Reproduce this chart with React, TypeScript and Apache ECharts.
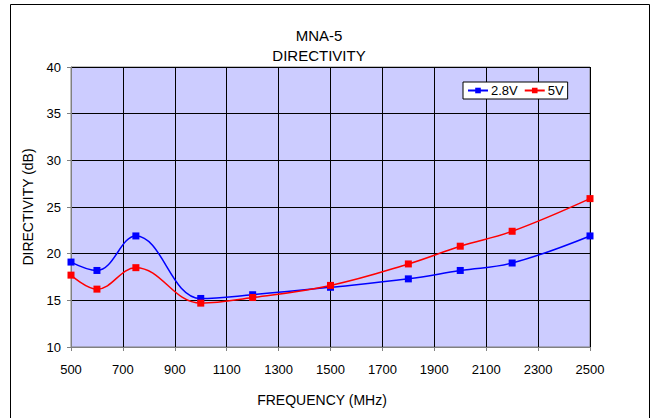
import React, { useEffect, useRef } from "react";
import * as echarts from "echarts";

const frequencies = [500, 600, 750, 1000, 1200, 1500, 1800, 2000, 2200, 2500];
const series28V = [19.1, 18.2, 21.9, 15.2, 15.6, 16.4, 17.3, 18.2, 19.0, 21.9];
const series5V = [17.7, 16.2, 18.5, 14.7, 15.3, 16.6, 18.9, 20.8, 22.4, 25.9];
const seriesNames = ["2.8V", "5V"];
const titleLines = ["MNA-5", "DIRECTIVITY"];

const FONT = "'Liberation Sans', Arial, sans-serif";

export default function App() {
  const ref = useRef<HTMLDivElement>(null);
  useEffect(() => {
    if (!ref.current) return;
    const chart = echarts.init(ref.current, null, { renderer: "svg" });
    const mk = (vals: number[]) => frequencies.map((f, i) => [f, vals[i]]);
    chart.setOption({
      animation: false,
      backgroundColor: "#ffffff",
      textStyle: { fontFamily: FONT },
      title: {
        text: titleLines.join("\n"),
        left: 314,
        textAlign: "center",
        top: 20,
        textStyle: { fontSize: 15, fontWeight: "normal", color: "#000", lineHeight: 20, fontFamily: FONT },
      },
      graphic: [
        {
          type: "rect",
          shape: { x: 10.5, y: 4.5, width: 639, height: 430 },
          style: { fill: "none", stroke: "#000", lineWidth: 1 },
          silent: true,
        },
      ],
      legend: {
        left: 463,
        top: 82,
        data: seriesNames,
        backgroundColor: "#ffffff",
        borderColor: "#000",
        borderWidth: 1,
        borderRadius: 0,
        padding: [2, 4, 2, 4],
        itemWidth: 20,
        itemHeight: 7,
        itemGap: 6,
        textStyle: { fontSize: 13, color: "#000", fontFamily: FONT, padding: [0, 0, 0, -2] },
      },
      grid: {
        left: 71,
        top: 67,
        width: 519,
        height: 280,
        show: true,
        backgroundColor: "#CCCCFF",
        borderColor: "#808080",
        borderWidth: 1,
      },
      xAxis: {
        type: "value",
        min: 500,
        max: 2500,
        interval: 200,
        name: "FREQUENCY (MHz)",
        nameLocation: "middle",
        nameGap: 46,
        nameTextStyle: { fontSize: 14, color: "#000", fontFamily: FONT, padding: [0, 17, 0, 0] },
        axisLine: { show: true, lineStyle: { color: "#808080" } },
        axisTick: { show: true, inside: false, length: 4, lineStyle: { color: "#808080" } },
        axisLabel: { fontSize: 13, color: "#000", margin: 16, fontFamily: FONT, formatter: (v: number) => String(v) },
        splitLine: { show: true, lineStyle: { color: "#000", width: 1 } },
      },
      yAxis: {
        type: "value",
        min: 10,
        max: 40,
        interval: 5,
        name: "DIRECTIVITY (dB)",
        nameLocation: "middle",
        nameGap: 36,
        nameTextStyle: { fontSize: 14, color: "#000", fontFamily: FONT },
        axisLine: { show: true, lineStyle: { color: "#808080" } },
        axisTick: { show: true, inside: false, length: 4, lineStyle: { color: "#808080" } },
        axisLabel: { fontSize: 13, color: "#000", margin: 10, fontFamily: FONT },
        splitLine: { show: true, lineStyle: { color: "#000", width: 1 } },
      },
      series: [
        {
          name: seriesNames[0],
          type: "line",
          data: mk(series28V),
          smooth: 0.4,
          symbol: "rect",
          symbolSize: 7,
          color: "#0000FF",
          lineStyle: { color: "#0000FF", width: 1.5 },
          itemStyle: { color: "#0000FF" },
        },
        {
          name: seriesNames[1],
          type: "line",
          data: mk(series5V),
          smooth: 0.4,
          symbol: "rect",
          symbolSize: 7,
          color: "#FF0000",
          lineStyle: { color: "#FF0000", width: 1.5 },
          itemStyle: { color: "#FF0000" },
        },
      ],
    });
    return () => chart.dispose();
  }, []);
  return (
    <div
      ref={ref}
      style={{ position: "fixed", left: 0, top: 0, width: 652, height: 418 }}
    />
  );
}
